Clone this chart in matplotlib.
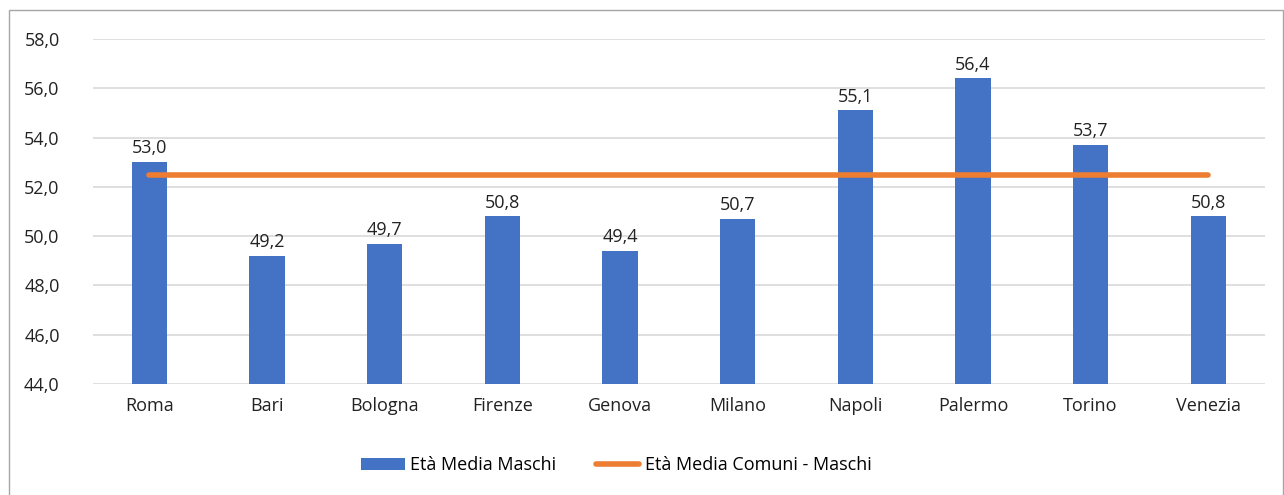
import matplotlib.pyplot as plt
from matplotlib.patches import Rectangle

citta = ["Roma", "Bari", "Bologna", "Firenze", "Genova", "Milano",
         "Napoli", "Palermo", "Torino", "Venezia"]
eta_maschi = [53.0, 49.2, 49.7, 50.8, 49.4, 50.7, 55.1, 56.4, 53.7, 50.8]
eta_media_comuni = [52.5] * len(citta)
y_ticks = [44, 46, 48, 50, 52, 54, 56, 58]

plt.rcParams['font.family'] = ['Open Sans', 'DejaVu Sans']

fig = plt.figure(figsize=(12.84, 4.95), dpi=100)
ax = fig.add_axes([0.0724, 0.2242, 0.9126, 0.697])

x = list(range(len(citta)))
bars = ax.bar(x, [v - 44 for v in eta_maschi], bottom=44, width=0.3,
              color='#4472C4', label='Età Media Maschi', zorder=2)
line, = ax.plot(x, eta_media_comuni, color='#ED7D31', linewidth=4,
                solid_capstyle='round', label='Età Media Comuni - Maschi', zorder=3)

for xi, v in zip(x, eta_maschi):
    ax.text(xi, v + 0.2, f"{v:.1f}".replace('.', ','), ha='center',
            va='bottom', fontsize=13, color='#222222')

ax.set_ylim(44, 58)
ax.set_xlim(-0.48, len(citta) - 0.52)
ax.set_yticks(y_ticks)
ax.set_yticklabels([f"{t:.1f}".replace('.', ',') for t in y_ticks])
ax.set_xticks(x)
ax.set_xticklabels(citta)
ax.tick_params(axis='both', length=0, labelsize=13, colors='#222222')
ax.tick_params(axis='y', pad=24)
ax.tick_params(axis='x', pad=9)
ax.grid(axis='y', color='#D9D9D9', linewidth=1.2, zorder=0)
for s in ax.spines.values():
    s.set_visible(False)

fig.legend(handles=[bars, line], loc='center', bbox_to_anchor=(0.48, 0.06),
           ncol=2, frameon=False, fontsize=13, handlelength=2.4,
           columnspacing=2.2, handletextpad=0.3)

fig.patches.append(Rectangle((0.007, -0.01), 0.992, 0.99, transform=fig.transFigure,
                             fill=False, edgecolor='#A6A6A6', linewidth=1))

fig.savefig('out.png', dpi=100)
